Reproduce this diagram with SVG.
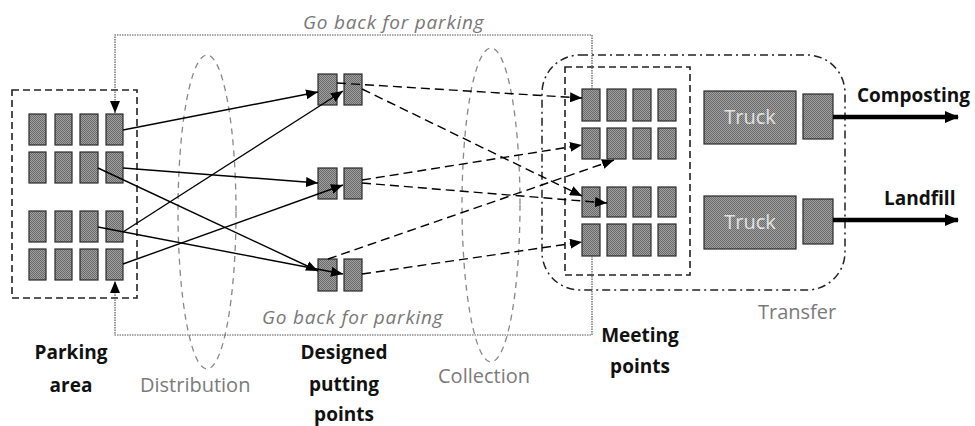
<svg xmlns="http://www.w3.org/2000/svg" width="975" height="426" viewBox="0 0 975 426">
  <defs>
    <!-- checkered gray fill used by every bin / vehicle block -->
    <pattern id="dither" width="2" height="2" patternUnits="userSpaceOnUse">
      <rect width="2" height="2" fill="#a0a0a0"/>
      <rect width="1" height="1" fill="#6a6a6a"/>
      <rect x="1" y="1" width="1" height="1" fill="#6a6a6a"/>
    </pattern>
    <marker id="arr" viewBox="0 0 12 10" refX="12" refY="5" markerWidth="12" markerHeight="10" markerUnits="userSpaceOnUse" orient="auto">
      <path d="M0,0 L12,5 L0,10 Z" fill="#000"/>
    </marker>
    <marker id="arrBig" viewBox="0 0 14 12" refX="13" refY="6" markerWidth="14" markerHeight="12" markerUnits="userSpaceOnUse" orient="auto">
      <path d="M0,0 L14,6 L0,12 Z" fill="#000"/>
    </marker>
    <style>
      .bin { fill: url(#dither); stroke: #2a2a2a; stroke-width: 1.2; }
      .box { fill: none; stroke: #222; stroke-width: 1.6; stroke-dasharray: 7 4; }
      .zone { fill: none; stroke: #888; stroke-width: 1.3; stroke-dasharray: 6 5; }
      .transfer { fill: none; stroke: #222; stroke-width: 1.5; stroke-dasharray: 8 4 2 4; }
      .solid { fill: none; stroke: #000; stroke-width: 1.4; marker-end: url(#arr); }
      .dash { fill: none; stroke: #000; stroke-width: 1.4; stroke-dasharray: 9 5; marker-end: url(#arr); }
      .back { fill: none; stroke: #555; stroke-width: 1.2; stroke-dasharray: 1.5 1; marker-end: url(#arr); }
      .thick { fill: none; stroke: #000; stroke-width: 4.5; marker-end: url(#arrBig); }
      .lbl { font-family: "Open Sans", "Liberation Sans", sans-serif; font-weight: bold; font-size: 19px; fill: #111; }
      .glbl { font-family: "Open Sans", "Liberation Sans", sans-serif; font-size: 20px; fill: #7a7a7a; }
      .ital { font-family: "Open Sans", "Liberation Sans", sans-serif; font-style: italic; font-size: 19px; letter-spacing: 0.8px; fill: #777; }
      .truck { font-family: "Open Sans", "Liberation Sans", sans-serif; font-size: 20px; fill: #e2e2e2; text-anchor: middle; }
    </style>
  </defs>

  <rect width="975" height="426" fill="#fff"/>

  <!-- stage zones -->
  <g id="distribution-zone">
    <ellipse class="zone" cx="207" cy="212" rx="29" ry="157"/>
    <text class="glbl" x="140" y="392">Distribution</text>
  </g>
  <g id="collection-zone">
    <ellipse class="zone" cx="491" cy="205" rx="29" ry="157"/>
    <text class="glbl" x="438" y="383">Collection</text>
  </g>
  <g id="transfer-zone">
    <rect class="transfer" x="542" y="55" width="303" height="235" rx="38" ry="38"/>
    <text class="glbl" x="758" y="319">Transfer</text>
  </g>

  <!-- parking area -->
  <g id="parking-area">
    <rect class="box" x="12" y="90" width="125" height="208"/>
    <g>
      <rect class="bin" x="29" y="114" width="17" height="31"/>
      <rect class="bin" x="55" y="114" width="17" height="31"/>
      <rect class="bin" x="80" y="114" width="18" height="31"/>
      <rect class="bin" x="106" y="114" width="17" height="31"/>
      <rect class="bin" x="29" y="152" width="17" height="31"/>
      <rect class="bin" x="55" y="152" width="17" height="31"/>
      <rect class="bin" x="80" y="152" width="18" height="31"/>
      <rect class="bin" x="106" y="152" width="17" height="31"/>
      <rect class="bin" x="29" y="211" width="17" height="31"/>
      <rect class="bin" x="55" y="211" width="17" height="31"/>
      <rect class="bin" x="80" y="211" width="18" height="31"/>
      <rect class="bin" x="106" y="211" width="17" height="31"/>
      <rect class="bin" x="29" y="249" width="17" height="31"/>
      <rect class="bin" x="55" y="249" width="17" height="31"/>
      <rect class="bin" x="80" y="249" width="18" height="31"/>
      <rect class="bin" x="106" y="249" width="17" height="31"/>
    </g>
    <text class="lbl" x="71" y="359" text-anchor="middle">Parking</text>
    <text class="lbl" x="71" y="392" text-anchor="middle">area</text>
  </g>

  <!-- designed putting points -->
  <g id="putting-point-1">
    <rect class="bin" x="318" y="74" width="19" height="31"/>
    <rect class="bin" x="344" y="74" width="18" height="31"/>
  </g>
  <g id="putting-point-2">
    <rect class="bin" x="318" y="168" width="19" height="31"/>
    <rect class="bin" x="344" y="168" width="18" height="31"/>
  </g>
  <g id="putting-point-3">
    <rect class="bin" x="318" y="259" width="19" height="32"/>
    <rect class="bin" x="344" y="259" width="18" height="32"/>
  </g>
  <g id="putting-points-label">
    <text class="lbl" x="344" y="359" text-anchor="middle">Designed</text>
    <text class="lbl" x="344" y="391" text-anchor="middle">putting</text>
    <text class="lbl" x="344" y="421" text-anchor="middle">points</text>
  </g>

  <!-- meeting points -->
  <g id="meeting-points">
    <rect class="box" x="565" y="67" width="125" height="208"/>
    <g>
      <rect class="bin" x="582" y="89" width="18" height="32"/>
      <rect class="bin" x="607" y="89" width="19" height="32"/>
      <rect class="bin" x="633" y="89" width="18" height="32"/>
      <rect class="bin" x="658" y="89" width="18" height="32"/>
      <rect class="bin" x="582" y="128" width="18" height="31"/>
      <rect class="bin" x="607" y="128" width="19" height="31"/>
      <rect class="bin" x="633" y="128" width="18" height="31"/>
      <rect class="bin" x="658" y="128" width="18" height="31"/>
      <rect class="bin" x="582" y="187" width="18" height="30"/>
      <rect class="bin" x="607" y="187" width="19" height="30"/>
      <rect class="bin" x="633" y="187" width="18" height="30"/>
      <rect class="bin" x="658" y="187" width="18" height="30"/>
      <rect class="bin" x="582" y="224" width="18" height="32"/>
      <rect class="bin" x="607" y="224" width="19" height="32"/>
      <rect class="bin" x="633" y="224" width="18" height="32"/>
      <rect class="bin" x="658" y="224" width="18" height="32"/>
    </g>
    <text class="lbl" x="640" y="342" text-anchor="middle">Meeting</text>
    <text class="lbl" x="640" y="373" text-anchor="middle">points</text>
  </g>

  <!-- trucks -->
  <g id="truck-composting">
    <rect class="bin" x="704" y="91" width="92" height="53"/>
    <text class="truck" x="750" y="124">Truck</text>
    <rect class="bin" x="803" y="94" width="30" height="45"/>
  </g>
  <g id="truck-landfill">
    <rect class="bin" x="704" y="196" width="92" height="53"/>
    <text class="truck" x="750" y="229">Truck</text>
    <rect class="bin" x="803" y="199" width="30" height="45"/>
  </g>

  <!-- destinations -->
  <g id="composting">
    <text class="lbl" x="857" y="102">Composting</text>
  </g>
  <g id="landfill">
    <text class="lbl" x="884" y="205">Landfill</text>
  </g>

  <!-- connectors -->
  <g id="connectors">
    <!-- distribution: parking area to putting points -->
    <path class="solid" d="M123,130 L318,92"/>
    <path class="solid" d="M123,168 L318,183"/>
    <path class="solid" d="M98,168 L318,271"/>
    <path class="solid" d="M98,227 L343,274"/>
    <path class="solid" d="M123,232 L343,91"/>
    <path class="solid" d="M123,264 L343,185"/>

    <!-- collection: putting points to meeting points -->
    <path class="dash" d="M337,83 L582,98"/>
    <path class="dash" d="M362,89 L582,196"/>
    <path class="dash" d="M362,180 L582,145"/>
    <path class="dash" d="M362,183 L607,203"/>
    <path class="dash" d="M328,259 L614,160"/>
    <path class="dash" d="M362,274 L582,242"/>

    <!-- return trips to parking -->
    <path class="back" d="M592,89 V35 H115 V113"/>
    <path class="back" d="M592,256 V335 H115 V281"/>

    <!-- transfer out -->
    <path class="thick" d="M833,117 H958"/>
    <path class="thick" d="M833,220 H958"/>
  </g>

  <g id="return-labels">
    <text class="ital" x="303" y="29">Go back for parking</text>
    <text class="ital" x="262" y="324">Go back for parking</text>
  </g>
</svg>
